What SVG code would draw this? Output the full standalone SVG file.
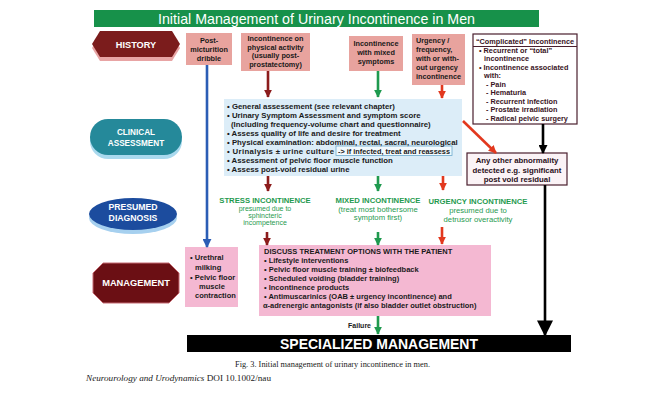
<svg xmlns="http://www.w3.org/2000/svg" width="655" height="400" viewBox="0 0 655 400">
<defs>
<style>
text{font-family:"Liberation Sans",Arial,sans-serif;fill:#1a1a1a}
.b{font-weight:bold}
.hist{font-size:7.3px;font-weight:bold;text-anchor:middle}
.lab{font-weight:bold;fill:#fff;text-anchor:middle}
.ca{font-size:7.8px;font-weight:bold}
.cx{font-size:7.3px;font-weight:bold;fill:#3a1424}
.gd{fill:#1f9a4f;text-anchor:middle}
.gh{font-size:7.7px;font-weight:bold}
.gs{font-size:7.7px}
.gt{font-size:7px}
.mg{font-size:7.5px;font-weight:bold}
.pinkH{fill:#e8a39e}
.pinkM{fill:#f4b8d2}
.ar{fill:none;stroke-width:2.6}
</style>
<marker id="hDr" viewBox="0 0 10 10" refX="9" refY="5" markerUnits="userSpaceOnUse" markerWidth="8" markerHeight="9" orient="auto"><path d="M0,0 L10,5 L0,10 z" fill="#8c1c1c"/></marker>
<marker id="hG" viewBox="0 0 10 10" refX="9" refY="5" markerUnits="userSpaceOnUse" markerWidth="8" markerHeight="9" orient="auto"><path d="M0,0 L10,5 L0,10 z" fill="#1f9a4f"/></marker>
<marker id="hR" viewBox="0 0 10 10" refX="9" refY="5" markerUnits="userSpaceOnUse" markerWidth="8" markerHeight="8" orient="auto"><path d="M0,0 L10,5 L0,10 z" fill="#e2381e"/></marker>
<marker id="hB" viewBox="0 0 10 10" refX="9" refY="5" markerUnits="userSpaceOnUse" markerWidth="9" markerHeight="9" orient="auto"><path d="M0,0 L10,5 L0,10 z" fill="#2b5db5"/></marker>
<marker id="hK" viewBox="0 0 10 10" refX="9" refY="5" markerUnits="userSpaceOnUse" markerWidth="14" markerHeight="9" orient="auto"><path d="M0,0 L10,5 L0,10 z" fill="#000"/></marker>
<marker id="hK2" viewBox="0 0 10 10" refX="9" refY="5" markerUnits="userSpaceOnUse" markerWidth="27" markerHeight="16" orient="auto"><path d="M0,0 L10,5 L0,10 z" fill="#000"/></marker>
</defs>
<rect width="655" height="400" fill="#fff"/>

<g id="title">
<rect x="94" y="10" width="445" height="17" fill="#17914a"/>
<text x="316.5" y="23.5" font-size="14.2" fill="#fff" text-anchor="middle" style="fill:#fff" textLength="317" lengthAdjust="spacingAndGlyphs">Initial Management of Urinary Incontinence in Men</text>
</g>

<g id="history-label">
<polygon points="92,48 100,35 172,35 180,48 172,61 100,61" fill="#e8a4a4"/>
<polygon points="92,44 100,31 172,31 180,44 172,57 100,57" fill="#7b1c1c"/>
<text class="lab" x="136" y="47.5" font-size="9.2">HISTORY</text>
</g>

<g id="post-micturition">
<rect class="pinkH" x="186" y="33" width="46" height="32"/>
<text class="hist" x="209" y="43">Post-</text>
<text class="hist" x="209" y="52">micturition</text>
<text class="hist" x="209" y="61">dribble</text>
</g>

<g id="physical-activity">
<rect class="pinkH" x="241" y="33" width="69" height="38"/>
<text class="hist" x="275.5" y="41">Incontinence on</text>
<text class="hist" x="275.5" y="49.5">physical activity</text>
<text class="hist" x="275.5" y="58">(usually post-</text>
<text class="hist" x="275.5" y="66.5">prostatectomy)</text>
</g>

<g id="mixed-symptoms">
<rect class="pinkH" x="349" y="36" width="54" height="35"/>
<text class="hist" x="376" y="46">Incontinence</text>
<text class="hist" x="376" y="55">with mixed</text>
<text class="hist" x="376" y="64">symptoms</text>
</g>

<g id="urgency">
<rect class="pinkH" x="412" y="34" width="53" height="51"/>
<text class="hist" x="416" y="43" style="text-anchor:start">Urgency /</text>
<text class="hist" x="416" y="52" style="text-anchor:start">frequency,</text>
<text class="hist" x="416" y="61" style="text-anchor:start">with or with-</text>
<text class="hist" x="416" y="70" style="text-anchor:start">out  urgency</text>
<text class="hist" x="416" y="79" style="text-anchor:start">incontinence</text>
</g>

<g id="complicated">
<rect x="473" y="34" width="104" height="90" fill="#fff" stroke="#4a1f2e" stroke-width="1.2"/>
<line x1="473" y1="46.5" x2="577" y2="46.5" stroke="#4a1f2e" stroke-width="1"/>
<text class="cx" x="525" y="43.5" text-anchor="middle">“Complicated” Incontinence</text>
<text class="cx" x="479" y="53">• Recurrent or “total”</text>
<text class="cx" x="484" y="61">incontinence</text>
<text class="cx" x="479" y="69.5">• Incontinence associated</text>
<text class="cx" x="484" y="78">with:</text>
<text class="cx" x="486" y="86.5">- Pain</text>
<text class="cx" x="486" y="95">- Hematuria</text>
<text class="cx" x="486" y="103.5">- Recurrent infection</text>
<text class="cx" x="486" y="112">- Prostate irradiation</text>
<text class="cx" x="486" y="120.5">- Radical pelvic surgery</text>
</g>

<g id="clinical-label">
<rect x="90" y="123" width="92" height="36" rx="18" fill="#a9d9ee"/>
<rect x="90" y="119" width="92" height="36" rx="18" fill="#25899a"/>
<text class="lab" x="136" y="134.5" font-size="8.2">CLINICAL</text>
<text class="lab" x="136" y="145.5" font-size="8.2">ASSESSMENT</text>
</g>

<g id="assessment">
<rect x="224" y="99" width="238" height="77" fill="#dcedf8"/>
<rect x="336" y="146" width="116" height="9.5" fill="#f2f9fd" stroke="#6aaacc" stroke-width="0.8"/>
<text class="ca" x="227" y="108.5">• General assessement  (see relevant chapter)</text>
<text class="ca" x="227" y="117.6">• Urinary Symptom Assessment and symptom score</text>
<text class="ca" x="231" y="126.7">(Including frequency-volume chart and questionnaire)</text>
<text class="ca" x="227" y="135.8">• Assess quality of life and desire for treatment</text>
<text class="ca" x="227" y="144.9">• Physical examination: abdominal, rectal, sacral, neurological</text>
<text class="ca" x="227" y="154" textLength="107" lengthAdjust="spacing">• Urinalysis ± urine culture</text>
<text class="ca" x="338" y="154" textLength="112" lengthAdjust="spacingAndGlyphs">-&gt; if infected, treat and reassess</text>
<text class="ca" x="227" y="163.1">• Assessment of pelvic floor muscle function</text>
<text class="ca" x="227" y="172.2">• Assess post-void residual urine</text>
</g>

<g id="other-abnormality">
<rect x="467" y="153" width="100" height="32" fill="#fbf3f6" stroke="#4a1f2e" stroke-width="1.2"/>
<text class="ca" x="517" y="163.3" text-anchor="middle" style="fill:#2a1020">Any other abnormality</text>
<text class="ca" x="517" y="172.5" text-anchor="middle" style="fill:#2a1020">detected e.g. significant</text>
<text class="ca" x="517" y="181.7" text-anchor="middle" style="fill:#2a1020">post void residual</text>
</g>

<g id="diagnosis-label">
<ellipse cx="133" cy="218" rx="44" ry="16" fill="#a6d0ef"/>
<ellipse cx="133" cy="214" rx="44" ry="16" fill="#1c4c9e"/>
<text class="lab" x="133" y="210" font-size="8.7">PRESUMED</text>
<text class="lab" x="133" y="221" font-size="8.7">DIAGNOSIS</text>
</g>

<g id="stress">
<text class="gd gh" x="265" y="202.7">STRESS INCONTINENCE</text>
<text class="gd gt" x="265" y="210.6">presumed due to</text>
<text class="gd gt" x="265" y="218">sphincteric</text>
<text class="gd gt" x="265" y="225.4">incompetence</text>
</g>

<g id="mixed">
<text class="gd gh" x="378" y="202.7">MIXED INCONTINENCE</text>
<text class="gd gs" x="378" y="211.5">(treat most bothersome</text>
<text class="gd gs" x="378" y="220">symptom first)</text>
</g>

<g id="urgency-dx">
<text class="gd gh" x="478" y="203.5">URGENCY INCONTINENCE</text>
<text class="gd gs" x="478" y="212.5">presumed due to</text>
<text class="gd gs" x="478" y="221.5">detrusor overactivity</text>
</g>

<g id="management-label">
<polygon points="103,263 169,263 179,273 179,293 169,303 103,303 93,293 93,273" fill="#6b0f14" stroke="#c56a72" stroke-width="1"/>
<text class="lab" x="136" y="286.3" font-size="9.3">MANAGEMENT</text>
</g>

<g id="urethral">
<rect class="pinkM" x="185" y="247" width="53" height="60"/>
<text class="mg" x="190" y="260">• Urethral</text>
<text class="mg" x="195" y="270">milking</text>
<text class="mg" x="190" y="280">• Pelvic floor</text>
<text class="mg" x="199" y="289">muscle</text>
<text class="mg" x="195" y="298">contraction</text>
</g>

<g id="treatment">
<rect class="pinkM" x="259" y="245" width="232" height="71"/>
<text class="mg" x="264" y="253.5">DISCUSS TREATMENT OPTIONS WITH THE PATIENT</text>
<text class="mg" x="264" y="262.5">• Lifestyle interventions</text>
<text class="mg" x="264" y="271.7">• Pelvic floor muscle training ± biofeedback</text>
<text class="mg" x="264" y="280.9">• Scheduled voiding (bladder training)</text>
<text class="mg" x="264" y="290">• Incontinence products</text>
<text class="mg" x="264" y="299.2">• Antimuscarinics (OAB ± urgency incontinence) and</text>
<text class="mg" x="263" y="308.4">α-adrenergic antagonists (if also bladder outlet obstruction)</text>
</g>

<g id="specialized">
<rect x="187" y="335" width="384" height="17" fill="#000"/>
<text x="379" y="348.5" font-size="14" font-weight="bold" text-anchor="middle" style="fill:#fff" textLength="198" lengthAdjust="spacingAndGlyphs">SPECIALIZED MANAGEMENT</text>
</g>

<g id="connectors">
<line class="ar" x1="207" y1="65" x2="207" y2="247" stroke="#2b5db5" marker-end="url(#hB)"/>
<line class="ar" x1="268" y1="71" x2="268" y2="97" stroke="#8c1c1c" marker-end="url(#hDr)"/>
<line class="ar" x1="268" y1="176" x2="268" y2="191" stroke="#8c1c1c" marker-end="url(#hDr)"/>
<line class="ar" x1="267" y1="232" x2="267" y2="245" stroke="#8c1c1c" marker-end="url(#hDr)"/>
<line class="ar" x1="378" y1="71" x2="378" y2="97" stroke="#1f9a4f" marker-end="url(#hG)"/>
<line class="ar" x1="378" y1="176" x2="378" y2="191" stroke="#1f9a4f" marker-end="url(#hG)"/>
<line class="ar" x1="378" y1="232" x2="378" y2="245" stroke="#1f9a4f" marker-end="url(#hG)"/>
<line class="ar" x1="378" y1="316" x2="378" y2="334" stroke="#1f9a4f" marker-end="url(#hG)"/>
<line class="ar" x1="442" y1="85" x2="442" y2="98" stroke="#e2381e" stroke-width="2" marker-end="url(#hR)"/>
<line class="ar" x1="443" y1="176" x2="443" y2="190" stroke="#e2381e" stroke-width="2" marker-end="url(#hR)"/>
<line class="ar" x1="442" y1="227" x2="442" y2="244" stroke="#e2381e" stroke-width="2" marker-end="url(#hR)"/>
<line class="ar" x1="463" y1="121" x2="496" y2="153" stroke="#e2381e" stroke-width="2" marker-end="url(#hR)"/>
<line class="ar" x1="543" y1="124" x2="543" y2="153" stroke="#000" stroke-width="4" marker-end="url(#hK)"/>
<line class="ar" x1="545" y1="185" x2="545" y2="335" stroke="#000" stroke-width="4" marker-end="url(#hK2)"/>
<text x="371" y="327.5" font-size="7" font-weight="bold" text-anchor="end">Failure</text>
</g>

<g id="caption">
<text x="235" y="366.5" font-size="7.6" style="font-family:'Liberation Serif','Times New Roman',serif" textLength="195" lengthAdjust="spacingAndGlyphs">Fig. 3. Initial management of urinary incontinence in men.</text>
<text x="86" y="381" font-size="9" style="font-family:'Liberation Serif','Times New Roman',serif" textLength="185" lengthAdjust="spacingAndGlyphs"><tspan font-style="italic">Neurourology and Urodynamics</tspan> DOI 10.1002/nau</text>
</g>
</svg>
